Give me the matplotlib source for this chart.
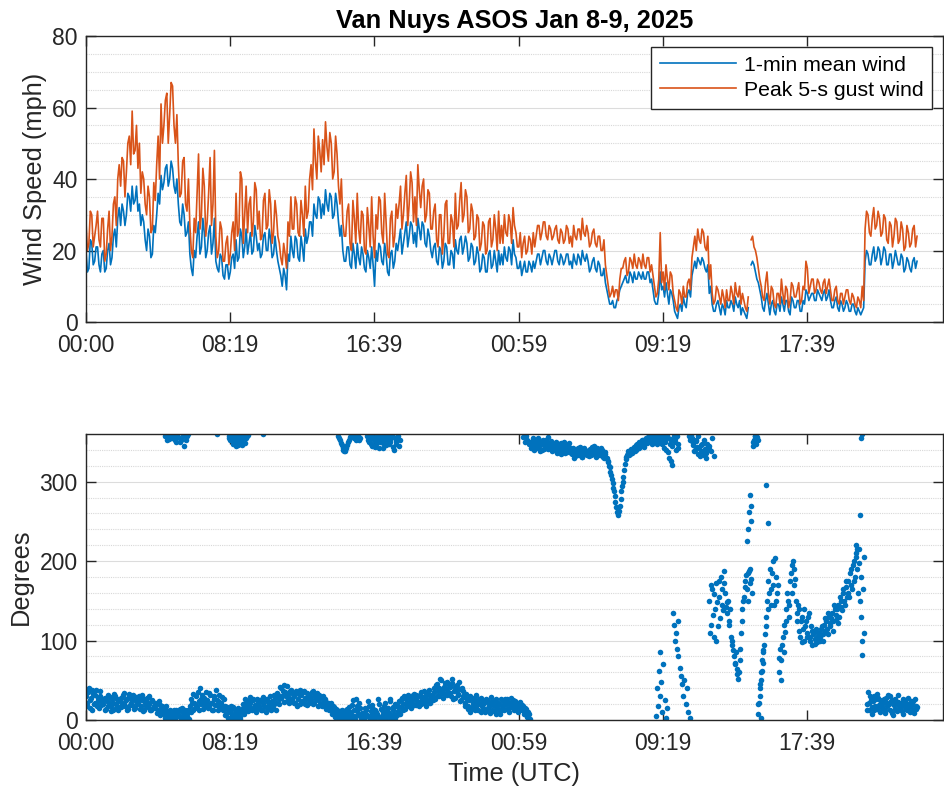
import numpy as np
import matplotlib
matplotlib.use("Agg")
import matplotlib.pyplot as plt
from matplotlib.ticker import MultipleLocator, FixedLocator

plt.rcParams['font.family'] = ['Liberation Sans', 'DejaVu Sans']

nan = np.nan

# ---------------- data ----------------
# wind samples every 10 min (minutes since Jan 8 00:00 UTC), plus the
# in-between samples (t + 5 min)
wind_step = 10
gust = [
    28, 22, 30, 24, 31, 21,  29, 19, 31, 24, 35, 40,  38, 45, 42, 52, 59, 48,
    43, 36, 40, 30, 35, 26,  34, 52, 61, 55, 64, 58,  66, 50, 44, 36, 46, 31,
    27, 18, 25, 47, 30, 38,  28, 46, 33, 24, 20, 26,  17, 24, 19, 28, 36, 26,
    40, 30, 25, 35, 28, 37,  31, 24, 36, 27, 33, 25,  30, 22, 16, 19, 28, 35,
    26, 33, 24, 30, 38, 31,  44, 54, 40, 48, 51, 56,  45, 50, 42, 47, 33, 28,
    24, 33, 20, 29, 36, 22,  30, 19, 27, 35, 18, 26,  34, 22, 28, 18, 31, 24,
    29, 38, 30, 41, 33, 39,  35, 44, 32, 40, 30, 36,  26, 33, 21, 30, 24, 34,
    22, 28, 36, 27, 39, 30,  35, 26, 31, 24, 29, 22,  27, 20, 29, 23, 26, 31,
    27, 30, 24, 28, 32, 25,  21, 18, 24, 20, 23, 25,  24, 27, 25, 28, 23, 26,
    24, 27, 22, 25, 23, 26,  24, 27, 23, 26, 29, 24,  25, 22, 26, 21, 24, 20,
    16, 10, 8, 7, 9, 12,     15, 18, 14, 17, 19, 15,  17, 19, 15, 18, 16, 10,
    8, 25, 14, 16, 9, 13,    6, 3, 8, 10, 7, 12,      18, 24, 26, 22, 25, 20,
    12, 8, 6, 9, 5, 7,       9, 6, 8, 11, 7, 5,       6, 3, nan, 24, 20, 15,
    10, 6, 14, 5, 9, 4,      8, 12, 5, 9, 6, 10,      7, 11, 6, 9, 15, 10,
    12, 9, 11, 8, 12, 10,    9, 6, 10, 5, 8, 7,       9, 5, 7, 4, 6, 10,
    26, 30, 24, 32, 27, 29,  25, 29, 22, 27, 24, 28,  23, 26, 21, 25, 22, 27,
    24,
]
gust_mid = [
    20, 31, 21, 27, 23, 29,  17, 26, 20, 33, 27, 44,  46, 35, 50, 44, 47, 55,
    50, 42, 33, 38, 25, 39,  44, 40, 50, 62, 50, 67,  55, 58, 35, 45, 33, 40,
    20, 29, 36, 26, 43, 24,  36, 27, 48, 18, 28, 17,  22, 16, 25, 20, 24, 42,
    22, 38, 33, 24, 39, 26,  23, 34, 26, 37, 22, 34,  24, 18, 22, 15, 24, 26,
    35, 25, 34, 24, 29, 40,  37, 45, 52, 42, 44, 49,  53, 40, 52, 38, 40, 24,
    31, 22, 34, 22, 26, 31,  20, 32, 21, 24, 30, 35,  25, 36, 19, 29, 21, 33,
    33, 26, 36, 27, 42, 28,  27, 37, 38, 28, 37, 26,  31, 23, 30, 19, 33, 22,
    30, 21, 26, 34, 28, 37,  25, 33, 23, 30, 20, 28,  19, 28, 21, 30, 20, 22,
    22, 25, 30, 22, 27, 21,  25, 22, 19, 24, 19, 21,  27, 23, 28, 24, 27, 23,
    26, 23, 26, 22, 27, 22,  21, 24, 26, 23, 25, 27,  21, 25, 22, 24, 20, 23,
    13, 7, 10, 9, 6, 15,     17, 13, 18, 15, 16, 18,  15, 16, 18, 14, 13, 7,
    12, 11, 9, 12, 14, 8,    4, 9, 5, 7, 11, 9,       21, 20, 23, 26, 21, 24,
    16, 5, 10, 7, 9, 4,      6, 10, 5, 8, 10, 8,      4, 7, 23, 21, 18, 12,
    7, 11, 8, 10, 5, 8,      5, 8, 10, 4, 11, 7,      9, 5, 10, 17, 8, 12,
    8, 12, 9, 11, 8, 12,     6, 9, 6, 8, 5, 9,        6, 8, 5, 7, 4, 6,
    31, 25, 29, 26, 31, 24,  30, 23, 28, 21, 29, 22,  28, 20, 27, 21, 26, 21,
]
mean_wind = [
    20, 15, 22, 17, 21, 14,  20, 15, 22, 18, 26, 29,  27, 31, 30, 35, 38, 34,
    31, 27, 28, 20, 24, 19,  25, 36, 41, 39, 44, 40,  43, 36, 33, 27, 30, 25,
    19, 13, 18, 28, 21, 25,  20, 27, 22, 17, 14, 18,  12, 16, 14, 19, 23, 18,
    24, 21, 19, 25, 20, 24,  22, 19, 25, 20, 23, 19,  20, 15, 10, 13, 19, 24,
    18, 23, 17, 21, 26, 24,  28, 33, 29, 34, 33, 37,  31, 35, 30, 33, 24, 20,
    17, 21, 15, 19, 22, 16,  19, 14, 18, 21, 10, 17,  21, 16, 19, 13, 20, 17,
    20, 26, 22, 28, 24, 27,  25, 29, 23, 27, 21, 24,  18, 22, 16, 20, 17, 21,
    16, 19, 23, 19, 24, 21,  22, 18, 21, 17, 19, 15,  18, 14, 20, 16, 17, 20,
    19, 21, 17, 20, 23, 18,  15, 13, 17, 14, 16, 17,  17, 19, 18, 20, 16, 18,
    18, 20, 16, 18, 17, 19,  17, 19, 16, 18, 20, 17,  17, 15, 18, 14, 16, 13,
    11, 7, 5, 4, 6, 9,       11, 13, 11, 13, 14, 12,  13, 14, 12, 14, 12, 6,
    5, 14, 10, 11, 5, 8,     3, 1, 5, 7, 4, 9,        13, 17, 18, 16, 17, 14,
    8, 5, 3, 6, 2, 4,        6, 4, 5, 7, 4, 2,        3, 1, nan, 17, 14, 11,
    7, 3, 8, 2, 6, 2,        5, 7, 3, 6, 2, 6,        4, 6, 3, 5, 8, 7,
    8, 6, 8, 6, 9, 7,        6, 4, 7, 3, 5, 4,        5, 3, 5, 2, 3, 3,
    17, 19, 16, 21, 18, 20,  18, 20, 16, 19, 17, 18,  16, 18, 15, 17, 14, 18,
    17,
]
mean_mid = [
    14, 23, 16, 21, 16, 19,  14, 20, 16, 24, 21, 32,  33, 27, 36, 31, 33, 38,
    33, 30, 23, 26, 18, 27,  30, 33, 37, 43, 38, 45,  38, 40, 28, 33, 24, 28,
    15, 20, 24, 19, 29, 18,  25, 19, 29, 15, 19, 13,  16, 12, 18, 15, 17, 26,
    18, 26, 22, 19, 27, 20,  18, 24, 20, 26, 18, 24,  17, 13, 15, 9, 17, 20,
    24, 18, 24, 17, 22, 28,  24, 30, 35, 29, 30, 33,  36, 29, 36, 28, 27, 17,
    21, 16, 22, 15, 18, 21,  15, 20, 15, 16, 20, 22,  17, 22, 14, 19, 15, 22,
    23, 19, 25, 21, 28, 22,  21, 26, 28, 22, 26, 20,  21, 17, 21, 15, 22, 16,
    20, 15, 20, 23, 19, 24,  17, 22, 16, 21, 14, 19,  14, 19, 15, 20, 14, 16,
    16, 18, 21, 16, 19, 15,  17, 15, 14, 17, 14, 15,  19, 16, 20, 17, 19, 16,
    20, 17, 19, 16, 19, 16,  15, 17, 19, 16, 18, 19,  14, 17, 15, 17, 13, 15,
    9, 5, 6, 4, 7, 10,       12, 11, 14, 11, 12, 14,  12, 12, 14, 11, 9, 5,
    8, 9, 7, 8, 9, 6,        2, 4, 3, 5, 8, 7,        15, 15, 17, 18, 15, 16,
    10, 3, 5, 4, 5, 2,       4, 6, 3, 5, 6, 4,        2, 4, 16, 16, 12, 9,
    4, 6, 5, 5, 3, 5,        3, 5, 6, 3, 7, 4,        6, 3, 6, 9, 6, 8,
    6, 9, 7, 8, 6, 9,        4, 6, 4, 6, 3, 6,        3, 5, 3, 4, 2, 4,
    20, 16, 19, 17, 21, 16,  21, 16, 19, 15, 20, 16,  19, 14, 18, 15, 17, 15,
]

# wind-direction samples every 5 min (degrees), and a second set at t + 2.5 min
dir_step = 5
direction = [
    30, 18, 40, 25, 12, 33, 22, 38, 28, 15, 30, 24,
    20, 28, 14, 32, 22, 18, 26, 12, 30, 20, 24, 16,
    28, 20, 34, 18, 25, 14, 30, 22, 19, 27, 15, 24,
    22, 30, 18, 25, 13, 21, 28, 16, 20, 12, 24, 18,
    15, 22, 12, 19, 10, 17, 8, 14, 5, 11, 3, 9,
    4, 12, 2, 8, 6, 14, 3, 10, 1, 7, 5, 13,
    18, 26, 12, 22, 30, 16, 24, 40, 20, 14, 28, 22,
    25, 17, 32, 21, 13, 27, 38, 19, 23, 15, 29, 12,
    18, 8, 14, 3, 10, 5, 16, 2, 12, 6, 9, 4,
    11, 15, 20, 13, 24, 17, 22, 12, 26, 19, 14, 23,
    18, 25, 13, 21, 27, 16, 23, 19, 12, 24, 20, 28,
    22, 32, 26, 40, 30, 44, 35, 24, 33, 28, 38, 25,
    30, 22, 34, 26, 20, 31, 24, 36, 28, 19, 32, 25,
    27, 36, 22, 30, 34, 25, 20, 29, 23, 17, 26, 19,
    21, 14, 18, 10, 16, 8, 13, 5, 11, 3, 9, 2,
    7, 14, 4, 10, 2, 25, 12, 27, 18, 6, 15, 3,
    9, 1, 12, 5, 17, 3, 8, 14, 2, 10, 6, 20,
    4, 12, 7, 22, 3, 15, 9, 27, 5, 13, 2, 18,
    11, 24, 16, 28, 20, 14, 26, 31, 18, 25, 22, 33,
    27, 19, 30, 23, 35, 26, 21, 29, 34, 24, 38, 28,
    32, 40, 27, 45, 36, 30, 50, 38, 42, 33, 48, 35,
    41, 30, 52, 37, 28, 44, 33, 39, 25, 36, 29, 22,
    26, 18, 30, 14, 22, 27, 16, 24, 12, 20, 28, 15,
    21, 13, 25, 17, 9, 23, 19, 11, 26, 15, 20, 8,
    18, 24, 12, 20, 27, 15, 22, 16, 25, 19, 13, 21,
    17, 23, 12, 18, 9, 14, 5, 8, 350, 346, 355, 344,
    350, 343, 352, 346, 340, 349, 344, 353, 341, 348, 345, 338,
    347, 340, 345, 337, 343, 349, 339, 344, 336, 342, 346, 338,
    341, 335, 339, 332, 337, 342, 334, 338, 331, 336, 340, 333,
    337, 341, 334, 339, 345, 336, 340, 333, 338, 342, 335, 330,
    335, 330, 325, 318, 308, 298, 288, 275, 262, 258, 270, 288,
    300, 315, 328, 333, 338, 335, 341, 338, 344, 340, 347, 343,
    349, 345, 352, 348, 355, 350, 357, 353, 358, 349, 355, 352,
    358, 351, 356, 347, 359, 353, 340, 357, 330, 348, 321, 352,
    354, 340, 348, nan, nan, nan, nan, nan, nan, nan, 358, 352,
    355, 346, 340, 351, 335, 343, 338, 347, 333, 341, 336, 344,
    150, 120, 165, 105, 140, 172, 118, 155, 180, 145, 187, 160,
    135, 150, 120, 105, 95, 80, 70, 58, 52, 75, 110, 140,
    155, 175, 165, 185, 190, 178, 345, 352, 358, 356, 8, 30,
    50, 72, 95, 118, 150, 175, 190, 165, 200, 145, 180, 160,
    60, 90, 75, 105, 120, 140, 160, 130, 175, 195, 200, 170,
    150, 125, 140, 105, 130, 115, 100, 125, 110, 135, 105, 112,
    108, 102, 115, 98, 110, 104, 118, 100, 112, 125, 108, 130,
    118, 135, 112, 140, 126, 145, 130, 150, 138, 160, 145, 168,
    175, 155, 190, 165, 200, 180, 210, 160, 215, 130, 100, 205,
    nan, 20, 35, 12, 25, 8, 30, 18, 14, 28, 10, 22,
    16, 26, 9, 21, 32, 13, 24, 6, 19, 27, 11, 23,
    15, 22, 8, 18, 25, 12, 20, 10, 17, 24, 9, 14,
    16,
]
direction_mid = [
    22, 35, 15, 28, 38, 20, 31, 17, 24, 36, 19, 27,
    26, 13, 24, 17, 29, 11, 22, 33, 15, 27, 12, 25,
    16, 31, 22, 27, 12, 33, 19, 26, 31, 14, 29, 20,
    27, 14, 32, 11, 26, 17, 23, 30, 12, 25, 15, 21,
    20, 9, 24, 6, 15, 12, 3, 18, 10, 2, 13, 6,
    9, 1, 13, 5, 11, 2, 15, 6, 12, 3, 10, 1,
    10, 21, 33, 15, 19, 35, 13, 27, 31, 24, 17, 35,
    15, 34, 22, 12, 30, 19, 25, 12, 31, 21, 17, 26,
    6, 16, 2, 12, 18, 1, 8, 13, 4, 15, 1, 11,
    20, 7, 26, 18, 11, 29, 14, 25, 16, 10, 27, 16,
    25, 12, 29, 17, 10, 27, 14, 30, 22, 15, 31, 13,
    34, 20, 42, 28, 37, 23, 30, 43, 21, 36, 26, 33,
    22, 36, 18, 33, 38, 23, 35, 20, 27, 34, 21, 30,
    35, 20, 31, 26, 18, 32, 28, 17, 30, 24, 14, 22,
    12, 22, 8, 17, 4, 14, 10, 1, 7, 12, 2, 6,
    13, 2, 16, 7, 19, 5, 1, 11, 6, 22, 3, 9,
    3, 15, 6, 24, 1, 11, 19, 4, 13, 7, 26, 2,
    14, 2, 18, 9, 12, 5, 24, 1, 16, 8, 20, 6,
    17, 8, 25, 13, 30, 22, 18, 21, 29, 15, 31, 19,
    31, 24, 18, 32, 20, 29, 36, 17, 25, 32, 22, 30,
    25, 35, 44, 30, 40, 52, 34, 28, 46, 39, 31, 44,
    34, 47, 26, 42, 38, 31, 48, 24, 40, 30, 18, 33,
    14, 25, 10, 28, 17, 12, 31, 20, 26, 10, 17, 24,
    10, 27, 15, 22, 29, 12, 24, 18, 8, 22, 13, 27,
    12, 19, 26, 14, 21, 10, 28, 20, 13, 24, 17, 10,
    21, 14, 19, 8, 15, 4, 10, 1, 343, 352, 340, 350,
    345, 355, 339, 348, 353, 341, 350, 344, 356, 342, 351, 346,
    341, 350, 336, 347, 341, 335, 346, 350, 341, 337, 349, 343,
    336, 343, 330, 340, 334, 338, 344, 331, 339, 342, 335, 338,
    332, 337, 344, 335, 340, 331, 343, 337, 334, 340, 331, 337,
    330, 326, 320, 312, 303, 292, 282, 268, 260, 263, 278, 295,
    306, 322, 331, 336, 333, 340, 336, 343, 339, 346, 342, 350,
    346, 353, 344, 351, 349, 356, 351, 359, 348, 354, 358, 347,
    354, 359, 349, 355, 343, 350, 358, 337, 354, 326, 345, 357,
    350, 357, 343, nan, nan, nan, nan, nan, nan, nan, 353, 359,
    349, 338, 352, 344, 357, 332, 346, 339, 352, 330, 348, 341,
    110, 170, 132, 158, 100, 148, 175, 128, 165, 138, 172, 142,
    148, 125, 140, 100, 88, 72, 85, 64, 60, 90, 125, 150,
    168, 182, 150, 188, 172, 160, 350, 358, 347, 353, 22, 40,
    62, 85, 108, 130, 140, 160, 145, 185, 170, 204, 150, 170,
    78, 50, 95, 85, 111, 125, 150, 145, 185, 160, 190, 178,
    135, 145, 112, 125, 98, 140, 118, 105, 130, 100, 118, 95,
    112, 96, 105, 110, 100, 114, 108, 120, 128, 115, 135, 122,
    128, 124, 145, 132, 140, 122, 155, 142, 165, 150, 175, 155,
    160, 185, 170, 195, 175, 205, 190, 198, 150, 180, 165, 110,
    nan, 12, 22, 30, 16, 24, 13, 26, 33, 19, 25, 15,
    22, 12, 28, 17, 20, 30, 9, 25, 14, 21, 32, 18,
    20, 11, 27, 23, 14, 28, 16, 24, 21, 12, 26, 18,
]

# additional direction observations (near-360 wrap clusters & scattered points)
extra_time = [
    275, 278, 282, 286, 290, 294, 298, 302, 305, 308, 312, 316, 320, 325,
    330, 335, 340, 345, 350, 355, 453, 612,
    495, 497, 500, 503, 505, 508, 510, 513, 515, 518, 520, 523, 525, 528,
    530, 533, 535, 538, 540, 545, 548, 552, 555, 558, 562,
    874, 877, 880, 883, 886, 889, 892, 894, 897, 899, 902, 905, 908, 911,
    915, 918, 922, 926, 930, 934, 938, 942, 946, 950,
    973, 976, 980, 983, 986, 989, 992, 995, 998, 1001, 1004, 1007, 1010,
    1013, 1016, 1019, 1022, 1025, 1028, 1031, 1034, 1037, 1040, 1043, 1046,
    1049, 1052, 1055, 1058, 1061, 1064, 1066, 1070, 1073, 1076, 1079, 1082,
    1085, 1088,
    1515, 1520, 1525, 1530, 1535,
    1977, 1980, 1982, 1985, 1988, 1990, 1993, 1996, 2000, 2005, 2010, 2015,
    2035, 2038, 2041, 2044, 2047, 2050, 2053, 2058, 2062, 2066, 2070, 2074,
    2078, 2082, 2086, 2092,
    2160, 2165, 2170, 2175,
    2290, 2295, 2298, 2300, 2303, 2306, 2330, 2335, 2338, 2340, 2342, 2345,
    2358, 2362, 2668, 2672, 2683, 2686, 2688, 2690,
]
extra_deg = [
    357, 359, 352, 354, 358, 360, 355, 357, 360, 353, 350, 359, 356, 350,
    353, 357, 345, 352, 358, 360, 360, 360,
    358, 355, 352, 359, 356, 351, 348, 357, 354, 349, 345, 354, 357, 346,
    350, 358, 353, 351, 346, 355, 358, 349, 355, 357, 359,
    358, 355, 352, 349, 346, 343, 340, 339, 338, 340, 342, 346, 350, 353,
    356, 359, 358, 357, 355, 352, 357, 359, 353, 355,
    358, 353, 350, 359, 355, 348, 345, 356, 352, 344, 348, 352, 357,
    359, 343, 350, 354, 356, 349, 343, 358, 352, 346, 358, 353,
    347, 350, 354, 357, 359, 344, 340, 355, 348, 351, 356, 358,
    345, 353,
    356, 350, 358, 352, 347,
    5, 40, 18, 62, 30, 85, 48, 10, 70, 25, 2, 15,
    135, 120, 100, 110, 90, 80, 125, 65, 55, 45, 30, 50,
    20, 40, 10, 2,
    345, 338, 355, 332,
    225, 240, 262, 283, 270, 250, 20, 45, 60, 2, 75, 88,
    296, 248, 220, 215, 258, 355, 360, 82,
]

xtick_pos = [0, 499, 999, 1499, 1999, 2499]
xtick_labels = ['00:00', '08:19', '16:39', '00:59', '09:19', '17:39']

title = 'Van Nuys ASOS Jan 8-9, 2025'
series_labels = ['1-min mean wind', 'Peak 5-s gust wind']

# ---------------- drawing ----------------
BLUE = '#0072BD'
ORANGE = '#D95319'
DARK = '#262626'


def interleave(main, mid):
    out = np.full(len(main) + len(mid), np.nan)
    out[0::2] = main
    out[1::2] = mid
    return out


gust_all = interleave(gust, gust_mid)
mean_all = interleave(mean_wind, mean_mid)
t_wind = np.arange(len(gust_all)) * (wind_step / 2)
t_dir = np.arange(len(direction)) * dir_step
t_dir_mid = np.arange(len(direction_mid)) * dir_step + dir_step / 2

fig = plt.figure(figsize=(9.45, 7.94), dpi=100)
ax1 = fig.add_axes([86/945, 1-322/794, 857/945, 286/794])
ax2 = fig.add_axes([86/945, 1-720/794, 857/945, 286/794])

ax1.plot(t_wind, mean_all, color=BLUE, lw=1.2, label=series_labels[0])
ax1.plot(t_wind, gust_all, color=ORANGE, lw=1.2, label=series_labels[1])

for tt, dd in ((t_dir, direction), (t_dir_mid, direction_mid),
               (extra_time, extra_deg)):
    ax2.plot(tt, dd, linestyle='none', marker='o', ms=4.0,
             color=BLUE, mec=BLUE, mew=0)

TICK_FS = 16.5
LABEL_FS = 18.3

for ax in (ax1, ax2):
    ax.set_xlim(0, 2970)
    ax.xaxis.set_major_locator(FixedLocator(xtick_pos))
    ax.set_xticklabels(xtick_labels)
    ax.tick_params(which='major', direction='in', length=7, width=1.0,
                   color=DARK, labelcolor=DARK, labelsize=TICK_FS,
                   top=True, right=True, pad=6)
    ax.tick_params(axis='x', which='major', pad=8.5)
    ax.tick_params(which='minor', length=0)
    for s in ax.spines.values():
        s.set_color(DARK)
        s.set_linewidth(1.0)
    ax.grid(which='major', axis='y', color='#DCDCDC', lw=0.8, ls='-')
    ax.grid(which='minor', axis='y', color='#D8D8D8', lw=0.8, ls=(0, (1, 1)))
    ax.set_axisbelow(True)

ax1.set_ylim(0, 80)
ax1.yaxis.set_major_locator(MultipleLocator(20))
ax1.yaxis.set_minor_locator(MultipleLocator(5))
ax1.set_ylabel('Wind Speed (mph)', fontsize=LABEL_FS, color=DARK, labelpad=4)
ax1.set_title(title, fontsize=LABEL_FS, fontweight='bold', color='black', pad=6)

ax2.set_ylim(0, 360)
ax2.yaxis.set_major_locator(MultipleLocator(100))
ax2.yaxis.set_minor_locator(MultipleLocator(20))
ax2.set_ylabel('Degrees', fontsize=LABEL_FS, color=DARK, labelpad=5)
ax2.set_xlabel('Time (UTC)', fontsize=LABEL_FS, color=DARK, labelpad=5)

leg = ax1.legend(loc='upper right', fontsize=15.3, frameon=True, fancybox=False,
                 edgecolor=DARK, framealpha=1.0, borderaxespad=0.5,
                 handlelength=3.6, handletextpad=0.35, labelspacing=0.3,
                 borderpad=0.42)
leg.get_frame().set_linewidth(1.0)
for txt in leg.get_texts():
    txt.set_color('black')

fig.savefig('out.png', dpi=100)
